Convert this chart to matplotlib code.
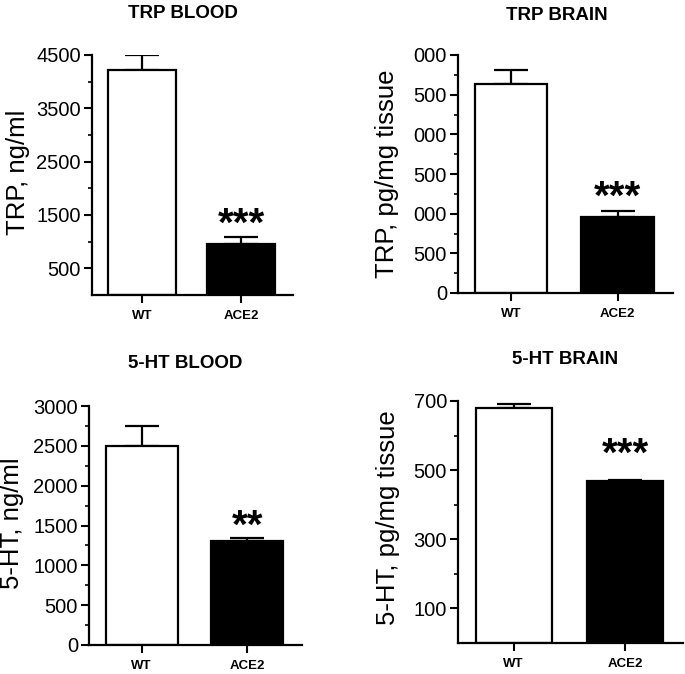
import matplotlib
matplotlib.use("Agg")
import matplotlib.pyplot as plt
from matplotlib.ticker import FixedLocator

plt.rcParams['font.family'] = ['Liberation Sans', 'DejaVu Sans']

categories = ["WT", "ACE2"]

trp_blood = [4210, 960]
trp_blood_err = [290, 130]
trp_brain = [2630, 960]
trp_brain_err = [180, 75]
ht_blood = [2500, 1300]
ht_blood_err = [250, 45]
ht_brain = [680, 468]
ht_brain_err = [10, 3]

titles = ["TRP BLOOD", "TRP BRAIN", "5-HT BLOOD", "5-HT BRAIN"]
ylabels = ["TRP, ng/ml", "TRP, pg/mg tissue", "5-HT, ng/ml", "5-HT, pg/mg tissue"]
signif = ["***", "***", "**", "***"]

p1_major = [500, 1500, 2500, 3500, 4500]
p1_minor = [1000, 2000, 3000, 4000]
p2_major = [0, 500, 1000, 1500, 2000, 2500, 3000]
p2_labels = ["0", "500", "000", "500", "000", "500", "000"]
p2_minor = [250, 750, 1250, 1750, 2250, 2750]
p3_major = [0, 500, 1000, 1500, 2000, 2500, 3000]
p3_minor = [250, 750, 1250, 1750, 2250, 2750]
p4_major = [100, 300, 500, 700]
p4_minor = [200, 400, 600]

fig = plt.figure(figsize=(6.85, 6.74), dpi=100)
W, H = 685.0, 674.0

def rect(x0, x1, ytop, ybot):
    return [x0 / W, 1 - ybot / H, (x1 - x0) / W, (ybot - ytop) / H]

panels = [
    dict(rect=rect(92, 293, 55, 295), vals=trp_blood, err=trp_blood_err, ylim=(0, 4500),
         major=p1_major, labels=None, minor=p1_minor, lab=(-0.37, 0.51),
         title=(183, 13), star_off=-5),
    dict(rect=rect(458, 673, 55, 293), vals=trp_brain, err=trp_brain_err, ylim=(0, 3000),
         major=p2_major, labels=p2_labels, minor=p2_minor, lab=(-0.33, 0.5),
         title=(557, 15), star_off=-4),
    dict(rect=rect(89, 302, 406, 645), vals=ht_blood, err=ht_blood_err, ylim=(0, 3000),
         major=p3_major, labels=None, minor=p3_minor, lab=(-0.36, 0.51),
         title=(185, 363), star_off=-5.5),
    dict(rect=rect(458, 683, 401, 643), vals=ht_brain, err=ht_brain_err, ylim=(0, 700),
         major=p4_major, labels=None, minor=p4_minor, lab=(-0.31, 0.52),
         title=(565, 360), star_off=4.5),
]

for i, p in enumerate(panels):
    ax = fig.add_axes(p["rect"])
    x = list(range(len(categories)))
    ax.bar(x, p["vals"], width=0.68, color=["white", "black"], edgecolor="black",
           linewidth=1.6, zorder=2)
    ax.errorbar(x, p["vals"], yerr=[[0] * len(x), p["err"]], fmt="none", ecolor="black",
                elinewidth=1.6, capsize=12, capthick=1.6, zorder=1)
    ax.set_xlim(-0.5, 1.52)
    ax.set_ylim(*p["ylim"])
    ax.set_xticks(x)
    ax.set_xticklabels(categories, fontsize=9.5, fontweight="bold")
    ax.yaxis.set_major_locator(FixedLocator(p["major"]))
    if p["labels"] is not None:
        ax.set_yticklabels(p["labels"])
    ax.yaxis.set_minor_locator(FixedLocator(p["minor"]))
    ax.tick_params(axis="y", which="major", labelsize=14.5, length=6, width=1.5, pad=2)
    ax.tick_params(axis="y", which="minor", length=3, width=1.2)
    ax.tick_params(axis="x", which="major", length=6, width=1.5, pad=5)
    for s in ["top", "right"]:
        ax.spines[s].set_visible(False)
    for s in ["left", "bottom"]:
        ax.spines[s].set_linewidth(1.6)
    ax.set_ylabel(ylabels[i], fontsize=18.5, va="center")
    ax.yaxis.set_label_coords(*p["lab"])
    top = p["vals"][1] + p["err"][1]
    ax.annotate(signif[i], xy=(1, top), xytext=(0, p["star_off"]), textcoords="offset points",
                ha="center", va="bottom", fontsize=29, fontweight="bold")
    fig.text(p["title"][0] / W, 1 - p["title"][1] / H, titles[i], ha="center", va="center",
             fontsize=13.5, fontweight="bold")

fig.savefig("out.png", dpi=100)
